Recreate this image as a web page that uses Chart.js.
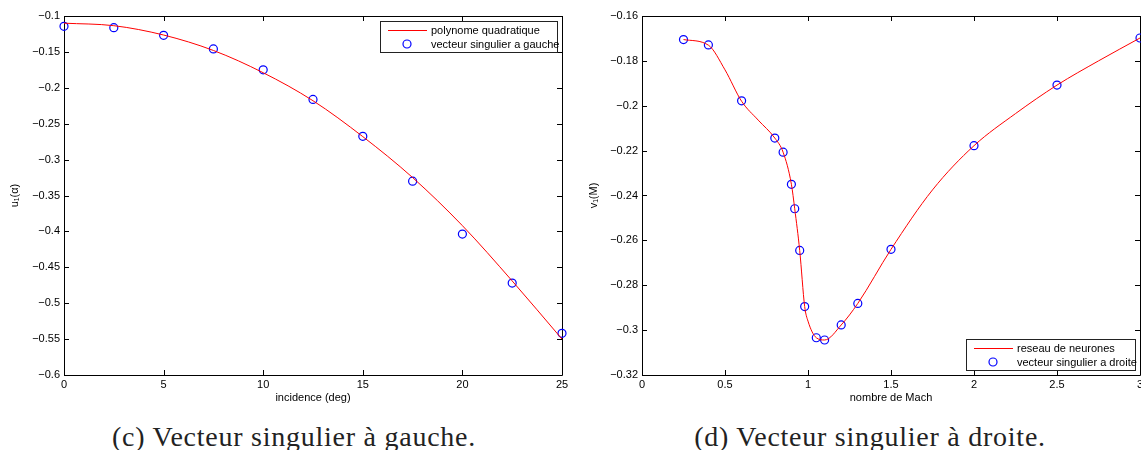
<!DOCTYPE html>
<html>
<head>
<meta charset="utf-8">
<script src="https://cdn.jsdelivr.net/npm/chart.js@4.4.0/dist/chart.umd.min.js"></script>
<style>
  html, body { margin: 0; padding: 0; background: #fff; overflow: hidden; width: 1141px; height: 450px; }
  .panel { position: absolute; top: 0; }
  #panel-left { left: 0; }
  #panel-right { left: 580px; }
  .caption {
    position: absolute; top: 423px; white-space: nowrap;
    font-family: "Liberation Serif", "DejaVu Serif", serif; font-size: 28px; line-height: 28px;
    letter-spacing: 0.75px; color: #222;
    transform: translateX(-50%);
  }
</style>
</head>
<body>
<div class="panel" id="panel-left"><canvas id="chart-left" width="580" height="410"></canvas></div>
<div class="panel" id="panel-right"><canvas id="chart-right" width="580" height="410"></canvas></div>
<div class="caption" style="left:294px">(c) Vecteur singulier à gauche.</div>
<div class="caption" style="left:870px">(d) Vecteur singulier à droite.</div>
<script>
// Left panel: incidence sweep
const incidence = [0, 2.5, 5, 7.5, 10, 12.5, 15, 17.5, 20, 22.5, 25];
const leftSingular = [-0.1144, -0.1162, -0.1269, -0.1458, -0.175, -0.2162, -0.2676, -0.330, -0.4037, -0.472, -0.5419];
const leftQuadratic = [-0.110, -0.1135, -0.1265, -0.148, -0.179, -0.218, -0.268, -0.325, -0.392, -0.469, -0.550];
const leftXTicks = [0, 5, 10, 15, 20, 25];
const leftYTicks = [-0.6, -0.55, -0.5, -0.45, -0.4, -0.35, -0.3, -0.25, -0.2, -0.15, -0.1];

// Right panel: Mach sweep
const machPoints = [0.25, 0.4, 0.6, 0.8, 0.85, 0.9, 0.92, 0.95, 0.98, 1.05, 1.1, 1.2, 1.3, 1.5, 2, 2.5, 3];
const rightSingular = [-0.1705, -0.1729, -0.1978, -0.2144, -0.2207, -0.235, -0.2459, -0.2645, -0.2895, -0.3034, -0.3044, -0.2977, -0.2881, -0.264, -0.2178, -0.1908, -0.1698];
const machCurve = [0.25, 0.4, 0.5, 0.6, 0.7, 0.8, 0.85, 0.9, 0.92, 0.95, 0.98, 1.0, 1.05, 1.1, 1.2, 1.3, 1.5, 1.75, 2, 2.25, 2.5, 2.75, 3];
const neuralNet = [-0.1705, -0.173, -0.184, -0.198, -0.2064, -0.2144, -0.2207, -0.235, -0.2459, -0.2645, -0.2895, -0.296, -0.3034, -0.3044, -0.2977, -0.2881, -0.264, -0.2375, -0.2178, -0.2035, -0.1908, -0.180, -0.1698];
const rightXTicks = [0, 0.5, 1, 1.5, 2, 2.5, 3];
const rightYTicks = [-0.32, -0.3, -0.28, -0.26, -0.24, -0.22, -0.2, -0.18, -0.16];

const FONT = '"Liberation Sans", Arial, Helvetica, sans-serif';
const TICK_LEN = 5;
const LINE_RED = '#ff0000';
const MARK_BLUE = '#0000ff';

Chart.defaults.color = '#000';
Chart.defaults.font.family = FONT;
Chart.defaults.font.size = 11;

function fmt(v) {
  const s = String(Math.round(v * 1000) / 1000);
  return s.replace('-', '\u2212');
}

function pairs(xs, ys) {
  return xs.map((x, i) => ({ x, y: ys[i] }));
}

// MATLAB-style box with inward ticks on all four sides
const matlabBox = {
  id: 'matlabBox',
  beforeDatasetsDraw(chart) {
    const { ctx, chartArea: a, scales: { x, y } } = chart;
    ctx.save();
    ctx.strokeStyle = '#000';
    ctx.lineWidth = 1;
    ctx.beginPath();
    ctx.rect(Math.round(a.left) + 0.5, Math.round(a.top) + 0.5,
             Math.round(a.right - a.left), Math.round(a.bottom - a.top));
    x.ticks.forEach(t => {
      const px = Math.round(x.getPixelForValue(t.value)) + 0.5;
      ctx.moveTo(px, a.bottom); ctx.lineTo(px, a.bottom - TICK_LEN);
      ctx.moveTo(px, a.top); ctx.lineTo(px, a.top + TICK_LEN);
    });
    y.ticks.forEach(t => {
      const py = Math.round(y.getPixelForValue(t.value)) + 0.5;
      ctx.moveTo(a.left, py); ctx.lineTo(a.left + TICK_LEN, py);
      ctx.moveTo(a.right, py); ctx.lineTo(a.right - TICK_LEN, py);
    });
    ctx.stroke();
    ctx.restore();
  }
};

// Boxed legend inside the plot area (text may spill a little past the frame, as in MATLAB)
const boxLegend = {
  id: 'boxLegend',
  afterDatasetsDraw(chart, args, opts) {
    const { ctx, chartArea: a } = chart;
    ctx.save();
    ctx.font = '11px ' + FONT;
    const dsets = chart.data.datasets;
    const textW = Math.max(...dsets.map(d => ctx.measureText(d.label).width));
    const w = Math.round(opts.textOffset + textW - 2);
    const h = opts.height;
    const left = Math.round(a.right - opts.inset - w);
    const top = opts.corner === 'top' ? Math.round(a.top + opts.inset) : Math.round(a.bottom - opts.inset - h);
    ctx.fillStyle = '#fff';
    ctx.fillRect(left, top, w, h);
    ctx.strokeStyle = '#222';
    ctx.lineWidth = 1;
    ctx.strokeRect(left + 0.5, top + 0.5, w, h);
    dsets.forEach((d, i) => {
      const cy = top + 9 + i * 14;
      if (d.showLine) {
        ctx.beginPath();
        ctx.strokeStyle = LINE_RED;
        ctx.lineWidth = 1.2;
        ctx.moveTo(left + 8, cy + 0.5);
        ctx.lineTo(left + 47, cy + 0.5);
        ctx.stroke();
      }
      if (d.pointRadius > 0) {
        ctx.beginPath();
        ctx.strokeStyle = MARK_BLUE;
        ctx.lineWidth = 1.2;
        ctx.arc(left + 27, cy, d.pointRadius, 0, Math.PI * 2);
        ctx.stroke();
      }
      ctx.fillStyle = '#000';
      ctx.textBaseline = 'middle';
      ctx.textAlign = 'left';
      ctx.fillText(d.label, left + opts.textOffset, cy + 1);
    });
    ctx.restore();
  }
};

function buildChart(id, cfg) {
  const ctx = document.getElementById(id).getContext('2d');
  return new Chart(ctx, {
    type: 'scatter',
    data: {
      datasets: [
        {
          label: cfg.lineLabel,
          data: pairs(cfg.curveX, cfg.curveY),
          showLine: true,
          borderColor: LINE_RED,
          borderWidth: 1,
          pointRadius: 0,
          cubicInterpolationMode: 'monotone',
          clip: false,
        },
        {
          label: cfg.pointLabel,
          data: pairs(cfg.pointX, cfg.pointY),
          showLine: false,
          borderColor: MARK_BLUE,
          backgroundColor: 'rgba(0,0,0,0)',
          borderWidth: 1.2,
          pointRadius: 4,
          pointHoverRadius: 4,
          clip: false,
        },
      ],
    },
    options: {
      responsive: false,
      animation: false,
      events: [],
      layout: { padding: { left: 0, top: 16, right: cfg.padRight, bottom: 0 } },
      plugins: {
        legend: { display: false },
        tooltip: { enabled: false },
        boxLegend: { corner: cfg.legendCorner, inset: cfg.legendInset, height: 31, textOffset: 51 },
      },
      scales: {
        x: {
          type: 'linear',
          min: cfg.xTicks[0],
          max: cfg.xTicks[cfg.xTicks.length - 1],
          afterBuildTicks: s => { s.ticks = cfg.xTicks.map(v => ({ value: v })); },
          afterFit: s => { s.height = 35; },
          grid: { display: false, drawTicks: false },
          border: { display: false },
          ticks: { padding: 3, autoSkip: false, maxRotation: 0, callback: v => fmt(v) },
          title: { display: true, text: cfg.xTitle, padding: { top: 0, bottom: 5 } },
        },
        y: {
          type: 'linear',
          min: cfg.yTicks[0],
          max: cfg.yTicks[cfg.yTicks.length - 1],
          afterBuildTicks: s => { s.ticks = cfg.yTicks.map(v => ({ value: v })); },
          afterFit: s => { s.width = cfg.yWidth; },
          grid: { display: false, drawTicks: false },
          border: { display: false },
          ticks: { padding: 4, autoSkip: false, callback: v => fmt(v) },
          title: { display: true, text: cfg.yTitle, padding: { top: cfg.yTitlePad, bottom: 0 } },
        },
      },
    },
    plugins: [matlabBox, boxLegend],
  });
}

buildChart('chart-left', {
  curveX: incidence, curveY: leftQuadratic,
  pointX: incidence, pointY: leftSingular,
  lineLabel: 'polynome quadratique',
  pointLabel: 'vecteur singulier a gauche',
  xTicks: leftXTicks, yTicks: leftYTicks,
  xTitle: 'incidence (deg)', yTitle: 'u\u2081(\u03b1)',
  padRight: 18, yWidth: 64, yTitlePad: 8,
  legendCorner: 'top', legendInset: 5,
});

buildChart('chart-right', {
  curveX: machCurve, curveY: neuralNet,
  pointX: machPoints, pointY: rightSingular,
  lineLabel: 'reseau de neurones',
  pointLabel: 'vecteur singulier a droite',
  xTicks: rightXTicks, yTicks: rightYTicks,
  xTitle: 'nombre de Mach', yTitle: 'v\u2081(M)',
  padRight: 20, yWidth: 62, yTitlePad: 7,
  legendCorner: 'bottom', legendInset: 5,
});
</script>
</body>
</html>
